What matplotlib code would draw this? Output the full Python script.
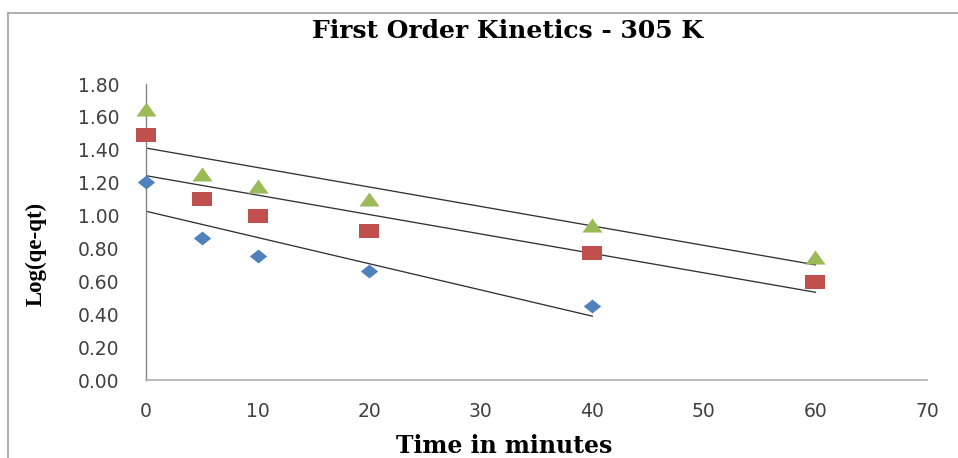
import numpy as np
import matplotlib.pyplot as plt
from matplotlib.lines import Line2D

# time (min) and log(qe-qt)
t_blue = [0, 5, 10, 20, 40]
y_blue = [1.205, 0.865, 0.755, 0.66, 0.45]
t_red = [0, 5, 10, 20, 40, 60]
y_red = [1.49, 1.10, 1.00, 0.905, 0.77, 0.595]
t_green = [0, 5, 10, 20, 40, 60]
y_green = [1.645, 1.25, 1.18, 1.10, 0.94, 0.75]

x_ticks = [0, 10, 20, 30, 40, 50, 60, 70]
y_ticks = [0.0, 0.2, 0.4, 0.6, 0.8, 1.0, 1.2, 1.4, 1.6, 1.8]

# wide excel-ish markers
sq = [(-1, -0.72), (1, -0.72), (1, 0.72), (-1, 0.72), (-1, -0.72)]
tri = [(-1, -0.7), (1, -0.7), (0, 0.7), (-1, -0.7)]
dia = [(0, 0.8), (1, 0), (0, -0.8), (-1, 0), (0, 0.8)]

fig = plt.figure(figsize=(9.58, 4.58), dpi=100)
ax = fig.add_axes([146/958, 1-380/458, (927-146)/958, (380-84)/458])

series = [(t_blue, y_blue, '#4F81BD', dia, 12.5),
          (t_red, y_red, '#C0504D', sq, 14.2),
          (t_green, y_green, '#9BBB59', tri, 14.5)]
for tx, ty, col, mk, ms in series:
    ax.plot(tx, ty, linestyle='none', marker=mk, markersize=ms, color=col,
            markeredgewidth=0, clip_on=False, zorder=3)
    # linear trendline like excel
    k, b = np.polyfit(tx, ty, 1)
    xx = np.array([min(tx), max(tx)])
    ax.plot(xx, k*xx+b, color='#333333', lw=0.95, zorder=2)

ax.set_xlim(0, 70)
ax.set_ylim(0, 1.8)
ax.set_xticks(x_ticks)
ax.set_yticks(y_ticks)
ax.set_yticklabels(['%.2f' % v for v in y_ticks])
ax.tick_params(axis='both', length=0, labelsize=13.5, labelcolor='#404040')
ax.tick_params(axis='x', pad=15.5)
ax.tick_params(axis='y', pad=19)
for s in ['top', 'right']:
    ax.spines[s].set_visible(False)
ax.spines['left'].set_color('#858585')
ax.spines['bottom'].set_color('#B5B5B5')
ax.spines['left'].set_linewidth(1.0)
ax.spines['bottom'].set_linewidth(1.3)

fig.text(508/958, 1-38.3/458, 'First Order Kinetics - 305 K', ha='center', va='baseline',
         family='DejaVu Serif', weight='bold', fontsize=18)
fig.text(504/958, 1-453/458, 'Time in minutes', ha='center', va='baseline',
         family='DejaVu Serif', weight='bold', fontsize=17)
fig.text(36/958, 1-253.5/458, 'Log(qe-qt)', ha='center', va='center', rotation=90,
         family='Liberation Serif', weight='bold', fontsize=16.5)

# chart area border, only left and top edges are in the picture
fig.lines.append(Line2D([8/958, 8/958], [0, 1-13/458], transform=fig.transFigure,
                        color='#A0A0A0', lw=1.2))
fig.lines.append(Line2D([8/958, 1], [1-13/458, 1-13/458], transform=fig.transFigure,
                        color='#A0A0A0', lw=1.2))

fig.savefig('out.png', dpi=100)
